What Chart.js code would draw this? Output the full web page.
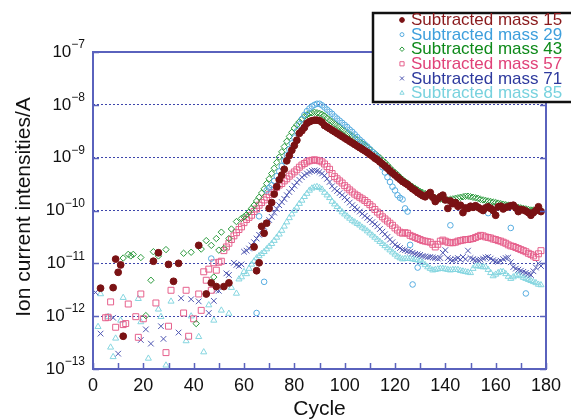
<!DOCTYPE html>
<html>
<head>
<meta charset="utf-8">
<script src="https://cdn.jsdelivr.net/npm/chart.js"></script>
<style>
  body { margin: 0; background: #fff; }
  #wrap { width: 571px; height: 420px; }
</style>
</head>
<body>
<div id="wrap"><canvas id="chart" width="571" height="420"></canvas></div>
<script>
// values are log10 of ion current (A), one entry per cycle 1..178, null = no point
var names = ["Subtracted mass 15", "Subtracted mass 29", "Subtracted mass 43",
             "Subtracted mass 57", "Subtracted mass 71", "Subtracted mass 85"];
var xTicks = [0, 20, 40, 60, 80, 100, 120, 140, 160, 180];
var yTicks = [1e-13, 1e-12, 1e-11, 1e-10, 1e-9, 1e-8, 1e-7];

var m15 = [
  null, null, -11.47, null, null, null, null, -11.46, -10.92, -11.17,
  -11.03, -12.38, null, null, null, null, null, null, null, null,
  null, null, null, -10.96, null, -10.80, null, null, null, -11.02,
  null, -11.34, null, -11.00, null, null, null, null, null, null,
  null, -10.66, null, null, -11.58, null, -11.37, null, -11.44, null,
  null, -11.44, null, -11.37, null, null, null, null, null, null,
  null, null, null, -10.69, -11.14, -10.99, -10.30, -10.43, -10.24, -9.96,
  -9.85, -9.69, -9.55, -9.42, -9.33, -9.22, -9.06, -8.96, -8.86, -8.77,
  -8.67, -8.54, -8.49, -8.43, -8.35, -8.32, -8.30, -8.29, -8.29, -8.30,
  -8.33, -8.39, -8.42, -8.45, -8.48, -8.51, -8.54, -8.57, -8.60, -8.63,
  -8.66, -8.69, -8.72, -8.75, -8.78, -8.81, -8.84, -8.87, -8.90, -8.94,
  -8.97, -9.01, -9.04, -9.08, -9.12, -9.16, -9.20, -9.25, -9.29, -9.33,
  -9.37, -9.41, -9.45, -9.48, -9.51, -9.55, -9.59, -9.62, -9.66, -9.69,
  -9.72, -9.74, -9.70, -9.66, -9.75, -9.83, -9.78, -9.74, -9.71, -9.80,
  -9.96, -9.82, -9.87, -9.85, -9.92, -9.90, -10.04, -9.95, -9.96, -9.92,
  -9.94, -9.91, -9.94, -9.97, -10.00, -9.95, -9.93, -9.96, -10.00, -10.09,
  -9.93, -9.92, -9.97, -9.94, -9.93, -9.91, -9.90, -9.95, -10.02, -9.98,
  -9.99, -10.01, -10.04, -10.09, -10.04, -10.00, -9.93, -10.02
];
var m29 = [
  null, null, null, null, null, null, null, null, null, null,
  null, null, null, null, null, null, null, null, null, null,
  null, null, null, null, null, null, null, null, null, null,
  null, null, null, null, null, null, null, null, null, null,
  null, null, null, null, null, null, -10.91, null, null, null,
  null, null, null, null, null, null, null, null, null, null,
  null, null, null, null, -11.94, -10.11, null, -11.35, -9.62, -9.57,
  -9.52, -9.44, -9.35, -9.26, -9.16, -9.06, -8.95, -8.84, -8.73, -8.62,
  -8.50, -8.37, -8.27, -8.19, -8.12, -8.07, -8.03, -8.00, -7.98, -7.98,
  -8.01, -8.05, -8.09, -8.13, -8.17, -8.22, -8.26, -8.30, -8.34, -8.38,
  -8.42, -8.47, -8.51, -8.56, -8.61, -8.66, -8.70, -8.75, -8.79, -8.84,
  -8.89, -8.93, -8.98, -9.08, -9.18, -9.28, -9.37, -9.46, -9.55, -9.62,
  -9.71, -9.76, -9.79, -9.96, -10.02, -10.65, -11.40, null, -11.08, null,
  null, null, null, null, null, null, null, null, null, null,
  null, -10.28, null, null, null, null, null, null, null, null,
  null, null, null, null, null, null, -10.05, null, null, null,
  null, null, null, null, null, -10.33, null, null, null, null,
  null, -11.57, null, null, null, null, null, null
];
var m43 = [
  null, null, null, null, null, null, null, null, null, null,
  null, -10.90, null, -10.83, -10.86, -10.83, null, null, -10.89, null,
  -11.99, null, -11.32, -10.78, null, -10.86, null, null, -10.74, null,
  null, null, null, null, null, -10.81, null, null, -10.79, null,
  -12.14, null, -10.73, null, -10.57, null, -10.66, -11.26, -10.53, -10.75,
  -10.41, -10.72, null, -10.53, -10.35, null, -10.21, null, -10.15, -10.12,
  -10.08, -10.03, -9.96, -9.90, -9.82, -9.75, -9.67, -9.59, -9.49, -9.40,
  -9.30, -9.20, -9.09, -8.99, -8.89, -8.79, -8.69, -8.60, -8.52, -8.44,
  -8.38, -8.32, -8.27, -8.22, -8.19, -8.16, -8.15, -8.14, -8.15, -8.16,
  -8.18, -8.21, -8.25, -8.29, -8.32, -8.36, -8.39, -8.42, -8.46, -8.49,
  -8.53, -8.56, -8.59, -8.63, -8.66, -8.70, -8.73, -8.76, -8.80, -8.84,
  -8.88, -8.92, -8.96, -9.00, -9.05, -9.09, -9.14, -9.19, -9.24, -9.28,
  -9.32, -9.37, -9.41, -9.45, -9.48, -9.52, -9.55, -9.58, -9.61, -9.64,
  -9.66, -9.68, -9.70, -9.72, -9.74, -9.76, -9.77, -9.78, -9.79, -9.79,
  -9.80, -9.79, -9.78, -9.77, -9.76, -9.75, -9.74, -9.73, -9.73, -9.74,
  -9.75, -9.76, -9.77, -9.79, -9.80, -9.81, -9.82, -9.83, -9.84, -9.85,
  -9.86, -9.87, -9.88, -9.89, -9.90, -9.91, -9.92, -9.93, -9.94, -9.95,
  -9.96, -9.97, -9.98, -9.99, -9.99, -9.99, -10.00, -9.99
];
var m57 = [
  null, null, null, null, -12.03, -12.02, -11.73, null, -12.21, null,
  null, -12.16, -12.14, -11.77, null, null, -12.01, -12.40, -11.58, -12.05,
  null, null, null, null, -11.75, null, null, null, -12.69, -12.19,
  -11.51, null, null, null, null, -11.94, -11.51, -12.38, null, -12.05,
  null, -11.58, -11.89, -11.16, -11.32, -11.11, -11.51, -10.99, -11.13, -10.98,
  -10.96, -10.76, -10.69, -10.62, -10.55, -10.48, -10.42, -10.36, -10.31, -10.23,
  -10.17, -10.13, -10.09, -10.02, -9.97, -9.90, -9.85, -9.80, -9.75, -9.70,
  -9.66, -9.61, -9.56, -9.52, -9.49, -9.44, -9.40, -9.35, -9.31, -9.27,
  -9.23, -9.18, -9.14, -9.11, -9.08, -9.06, -9.05, -9.04, -9.05, -9.06,
  -9.08, -9.12, -9.17, -9.22, -9.30, -9.36, -9.40, -9.44, -9.48, -9.53,
  -9.57, -9.61, -9.65, -9.69, -9.72, -9.75, -9.78, -9.81, -9.85, -9.89,
  -9.93, -9.98, -10.03, -10.07, -10.12, -10.16, -10.20, -10.24, -10.28, -10.33,
  -10.37, -10.41, -10.43, -10.42, -10.43, -10.47, -10.49, -10.51, -10.53, -10.55,
  -10.57, -10.58, -10.59, -10.60, -10.64, -10.69, -10.64, -10.58, -10.56, -10.58,
  -10.60, -10.61, -10.61, -10.60, -10.58, -10.57, -10.56, -10.55, -10.55, -10.54,
  -10.53, -10.51, -10.49, -10.47, -10.48, -10.50, -10.51, -10.52, -10.54, -10.55,
  -10.57, -10.58, -10.60, -10.62, -10.65, -10.67, -10.68, -10.70, -10.72, -10.74,
  -10.76, -10.78, -10.81, -10.83, -10.86, -10.89, -10.82, -10.76
];
var m71 = [
  -11.55, null, -12.33, null, null, null, null, -12.03, null, -12.71,
  null, null, null, null, null, null, null, null, -12.45, null,
  -12.25, null, -12.52, null, null, null, -12.19, -12.43, null, null,
  null, null, null, -12.31, -11.66, null, null, null, -11.68, null,
  null, -11.72, null, null, null, -11.94, null, -11.71, -11.51, -11.52,
  null, null, -11.19, -11.22, null, -10.99, -11.03, -11.05, -11.02, -10.78,
  -10.76, -10.72, -10.66, -10.60, -10.53, -10.46, -10.38, -10.31, -10.24, -10.18,
  -10.12, -10.04, -9.97, -9.90, -9.84, -9.78, -9.71, -9.65, -9.59, -9.53,
  -9.47, -9.42, -9.37, -9.33, -9.30, -9.27, -9.25, -9.24, -9.25, -9.27,
  -9.30, -9.34, -9.40, -9.46, -9.54, -9.59, -9.63, -9.67, -9.71, -9.75,
  -9.80, -9.85, -9.90, -9.94, -9.98, -10.02, -10.06, -10.10, -10.14, -10.18,
  -10.22, -10.26, -10.30, -10.35, -10.40, -10.45, -10.50, -10.55, -10.60, -10.65,
  -10.68, -10.71, -10.74, -10.75, -10.77, -10.78, -10.80, -10.82, -10.83, -10.84,
  -10.86, -10.87, -10.88, -10.88, -10.89, -10.90, -10.91, -10.90, -10.80, -10.75,
  -10.90, -10.93, -10.94, -10.92, -10.90, -10.93, -10.88, -10.92, -10.76, -10.90,
  -10.92, -10.94, -10.94, -10.93, -10.91, -10.89, -10.88, -10.91, -10.94, -10.96,
  -10.97, -10.95, -10.92, -10.90, -10.89, -10.98, -11.07, -11.10, -11.12, -11.14,
  -11.16, -11.18, -11.20, -11.22, -11.15, -11.08, -11.00, -11.05
];
var m85 = [
  null, -12.20, -11.58, null, null, -12.01, -12.59, -12.77, -12.42, null,
  -12.08, -11.65, null, null, null, null, null, -11.67, -12.11, null,
  null, -12.80, null, null, null, -11.87, -12.01, null, -12.93, null,
  -11.72, null, null, null, null, null, -12.47, null, -12.00, null,
  null, -12.39, null, -12.68, null, -11.79, null, -12.08, null, null,
  -11.89, null, null, -11.95, -11.46, null, -11.57, -11.30, -11.26, -11.16,
  -11.20, -11.10, -11.02, -10.96, -10.90, -10.86, -10.82, -10.78, -10.73, -10.68,
  -10.63, -10.57, -10.51, -10.45, -10.38, -10.30, -10.22, -10.14, -10.07, -10.00,
  -9.94, -9.87, -9.81, -9.74, -9.68, -9.62, -9.58, -9.56, -9.55, -9.57,
  -9.60, -9.66, -9.71, -9.76, -9.83, -9.88, -9.93, -9.98, -10.03, -10.07,
  -10.11, -10.15, -10.19, -10.22, -10.25, -10.28, -10.32, -10.35, -10.39, -10.43,
  -10.47, -10.51, -10.55, -10.59, -10.63, -10.67, -10.71, -10.75, -10.79, -10.83,
  -10.87, -10.90, -10.92, -10.91, -10.91, -10.91, -10.92, -10.93, -10.94, -10.95,
  -10.99, -11.03, -11.07, -11.10, -11.13, -11.12, -11.11, -11.10, -11.10, -11.11,
  -11.12, -11.13, -11.12, -11.12, -11.12, -11.14, -11.15, -11.16, -11.17, -11.18,
  -11.10, -11.05, -11.05, -11.06, -11.07, -11.07, -11.12, -11.18, -11.24, -11.21,
  -11.18, -11.16, -11.16, -11.20, -11.25, -11.29, -11.26, -11.23, -11.22, -11.24,
  -11.27, -11.29, -11.31, -11.33, -11.35, -11.37, -11.40, -11.41
];

var series = [m15, m29, m43, m57, m71, m85];
var markColors = ['#7a1214', '#56ace0', '#2a9a3c', '#e6608c', '#4f57b2', '#86d6e0'];
var textColors = ['#8a1a1c', '#3e9fdc', '#0e8a1a', '#e04279', '#2e3a9e', '#78d2de'];
var styles = ['circle', 'circle', 'rectRot', 'rect', 'crossRot', 'triangle'];
var radii = [3.4, 2.8, 3.2, 4.2, 4.0, 3.5];

function toPoints(vals) {
  var pts = [];
  vals.forEach(function (v, i) {
    if (v !== null) pts.push({ x: i + 1, y: Math.pow(10, v) });
  });
  return pts;
}

var datasets = series.map(function (vals, i) {
  return {
    label: names[i],
    data: toPoints(vals),
    pointStyle: styles[i],
    pointRadius: radii[i],
    pointBorderWidth: 1,
    pointBorderColor: markColors[i],
    pointBackgroundColor: i === 0 ? markColors[i] : 'rgba(0,0,0,0)',
    showLine: false
  };
});

var frameBlue = '#5a62bd';
var font = '"Liberation Sans", Arial, sans-serif';

var decor = {
  id: 'decor',
  afterDatasetsDraw: function (chart) {
    var ctx = chart.ctx, a = chart.chartArea;
    var xs = chart.scales.x, ys = chart.scales.y;
    ctx.save();
    ctx.strokeStyle = frameBlue;
    ctx.lineWidth = 1.5;
    // inward ticks
    ctx.beginPath();
    for (var c = 0; c <= 180; c += 10) {
      var px = Math.round(xs.getPixelForValue(c)) + 0.5;
      ctx.moveTo(px, a.bottom);
      ctx.lineTo(px, a.bottom - 6);
    }
    yTicks.forEach(function (v) {
      var py = Math.round(ys.getPixelForValue(v)) + 0.5;
      ctx.moveTo(a.left, py); ctx.lineTo(a.left + 6, py);
      ctx.moveTo(a.right, py); ctx.lineTo(a.right - 6, py);
    });
    ctx.stroke();
    ctx.lineWidth = 2;
    ctx.strokeRect(a.left, a.top, a.right - a.left, a.bottom - a.top);
    ctx.restore();
  },
  afterDraw: function (chart) {
    var ctx = chart.ctx, ys = chart.scales.y;
    ctx.save();
    ctx.fillStyle = '#111';
    // y tick labels 10^n
    yTicks.forEach(function (v) {
      var py = ys.getPixelForValue(v);
      var exp = '\u2212' + Math.round(-Math.log10(v));
      ctx.font = '12px ' + font;
      ctx.textAlign = 'right';
      ctx.textBaseline = 'middle';
      var ew = ctx.measureText(exp).width;
      ctx.fillText(exp, 85, py - 7);
      ctx.font = '17px ' + font;
      ctx.fillText('10', 85 - ew, py);
    });
    // y title
    ctx.translate(24, 207);
    ctx.rotate(-Math.PI / 2);
    ctx.textAlign = 'center';
    ctx.textBaseline = 'middle';
    ctx.font = '21px ' + font;
    ctx.fillText('Ion current intensities/A', 0, 0);
    ctx.restore();

    // legend box
    ctx.save();
    ctx.fillStyle = '#fff';
    ctx.fillRect(373, 13, 200, 89);
    ctx.strokeStyle = '#111';
    ctx.lineWidth = 2.5;
    ctx.strokeRect(373, 13, 200, 89);
    var rows = [20, 34.6, 49.2, 63.8, 78.4, 93];
    rows.forEach(function (ry, i) {
      var opts = { pointStyle: styles[i], radius: radii[i] * 0.7, borderWidth: 1 };
      ctx.strokeStyle = markColors[i];
      ctx.fillStyle = i === 0 ? markColors[i] : 'rgba(0,0,0,0)';
      ctx.lineWidth = 1;
      Chart.helpers.drawPoint(ctx, opts, 402, ry);
      ctx.fillStyle = textColors[i];
      ctx.font = '17px ' + font;
      ctx.textAlign = 'left';
      ctx.textBaseline = 'middle';
      ctx.fillText(names[i], 411, ry + 0.5);
    });
    ctx.restore();
  }
};

new Chart(document.getElementById('chart'), {
  type: 'scatter',
  data: { datasets: datasets },
  options: {
    responsive: false,
    animation: false,
    devicePixelRatio: 1,
    layout: { padding: { top: 52, right: 25, left: 0, bottom: 0 } },
    plugins: { legend: { display: false }, tooltip: { enabled: false } },
    scales: {
      x: {
        type: 'linear',
        min: 0,
        max: 180,
        afterBuildTicks: function (s) { s.ticks = xTicks.map(function (v) { return { value: v }; }); },
        afterFit: function (s) { s.height = 51; },
        grid: { display: false, drawTicks: false },
        border: { display: false },
        ticks: {
          padding: 6,
          color: '#111',
          maxRotation: 0,
          font: { family: font, size: 18 }
        },
        title: {
          display: true,
          text: 'Cycle',
          color: '#111',
          padding: { top: 0, bottom: 0 },
          font: { family: font, size: 21, lineHeight: 1 }
        }
      },
      y: {
        type: 'logarithmic',
        min: 1e-13,
        max: 1e-7,
        afterBuildTicks: function (s) { s.ticks = yTicks.map(function (v) { return { value: v }; }); },
        afterFit: function (s) { s.width = 93; },
        ticks: { display: false },
        grid: { color: '#3d45ab', lineWidth: 1, drawTicks: false },
        border: { display: false, dash: [2, 2] }
      }
    }
  },
  plugins: [decor]
});
</script>
</body>
</html>
